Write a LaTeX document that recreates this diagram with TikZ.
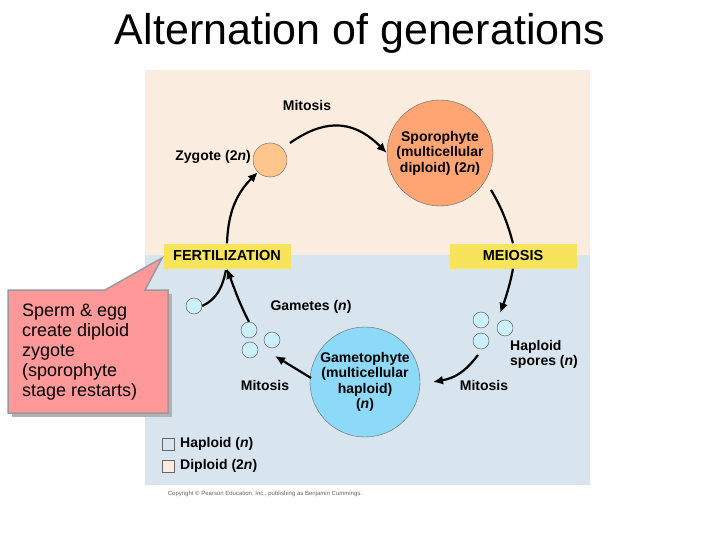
\documentclass[tikz,border=0pt]{standalone}
\usepackage{fontspec}
\setmainfont{Liberation Sans}
\definecolor{upbg}{RGB}{250,236,222}
\definecolor{lowbg}{RGB}{216,228,238}
\definecolor{sty}{RGB}{248,228,90}
\begin{document}
\begin{tikzpicture}[x=1pt,y=-1pt,
  lbl/.style={font=\fontsize{14}{15.5}\selectfont\bfseries,inner sep=1pt},
  stage/.style={fill=sty,minimum width=127pt,minimum height=25pt,font=\fontsize{14.5}{16}\selectfont\bfseries},
  cyc/.style={line width=2.2pt,-{Latex[length=10pt,width=9pt]}},
  spore/.style={circle,draw=black!70,fill=cyan!20,minimum size=16pt,inner sep=0pt},
  cell/.style={circle,draw=black!60,inner sep=0pt}]
\usetikzlibrary{arrows.meta}
\useasboundingbox (0,0) rectangle (720,540);
\fill[white] (0,0) rectangle (720,540);
\node[font=\fontsize{43}{48}\selectfont] (title) at (360,33) {Alternation of generations};
\fill[upbg] (145,70) rectangle (590,255);
\fill[lowbg] (145,255) rectangle (590,485);
\node[font=\fontsize{6}{7}\selectfont,text=black!60] (copy) at (265,494) {Copyright © Pearson Education, Inc., publishing as Benjamin Cummings.};
% cells
\node[cell,fill=orange!45,minimum size=34pt] (zyg) at (270,160) {};
\node[lbl,anchor=east] (zygl) at (252,157) {Zygote (2\textit{n})};
\node[cell,fill=orange!70!red!55,minimum size=106pt,align=center,lbl] (spo) at (440,153) {Sporophyte\\(multicellular\\diploid) (2\textit{n})};
\node[cell,fill=cyan!45,minimum size=110pt,align=center,lbl] (gam) at (365,382) {Gametophyte\\(multicellular\\haploid)\\(\textit{n})};
\node[stage] (fert) at (227,256) {FERTILIZATION};
\node[stage] (mei) at (513,256) {MEIOSIS};
\node[lbl] (mit1) at (307,105) {Mitosis};
\node[lbl] (mit2) at (265,385) {Mitosis};
\node[lbl] (mit3) at (484,385) {Mitosis};
\node[lbl] (gaml) at (311,307) {Gametes (\textit{n})};
\node[lbl,align=left,anchor=north west] (hsp) at (509,339) {Haploid\\spores (\textit{n})};
\node[spore] (s1) at (481,320) {};
\node[spore] (s2) at (505,328) {};
\node[spore] (s3) at (481,341) {};
\node[spore] (g0) at (194,306) {};
\node[spore] (g1) at (249,330) {};
\node[spore] (g2) at (272,340) {};
\node[spore] (g3) at (250,350) {};
\coordinate (gw) at (311,378);
\coordinate (gt) at (275,356);
% arrows
\draw[cyc] (290,143) .. controls (320,122) and (350,116) .. (spo.west);
\draw[line width=2.2pt] (491,190) .. controls (503,210) and (508,225) .. (mei.north);
\draw[cyc] (mei.south) .. controls (510,285) and (505,300) .. (500,313);
\draw[cyc] (478,355) .. controls (465,372) and (455,378) .. (433,382);
\draw[cyc] (gw) -- (gt);
\draw[line width=2.2pt] (g0.east) .. controls (215,300) and (222,290) .. (226,270);
\draw[cyc] (g1.north) .. controls (240,305) and (233,285) .. (fert.south);
\draw[cyc] (fert.north) .. controls (228,215) and (235,195) .. (zyg.south west);
% legend
\node[draw=black!60,fill=lowbg,minimum size=12pt,inner sep=0pt] (lh) at (168,444) {};
\node[draw=black!60,fill=upbg,minimum size=12pt,inner sep=0pt] (ld) at (168,466) {};
\node[lbl,anchor=west] (lht) at (179,444) {Haploid (\textit{n})};
\node[lbl,anchor=west] (ldt) at (179,466) {Diploid (2\textit{n})};
% callout
\fill[black!30] (12,294) rectangle (172,417);
\fill[red!40,draw=black!40,line width=1.5pt] (8,290) -- (105,290) -- (162,258) -- (145,290) -- (168,290) -- (168,413) -- (8,413) -- cycle;
\node[font=\fontsize{18}{20}\selectfont,align=left,anchor=north west,inner sep=0pt] (ct) at (22,304) {Sperm \& egg\\create diploid\\zygote\\(sporophyte\\stage restarts)};
\end{tikzpicture}
\end{document}
